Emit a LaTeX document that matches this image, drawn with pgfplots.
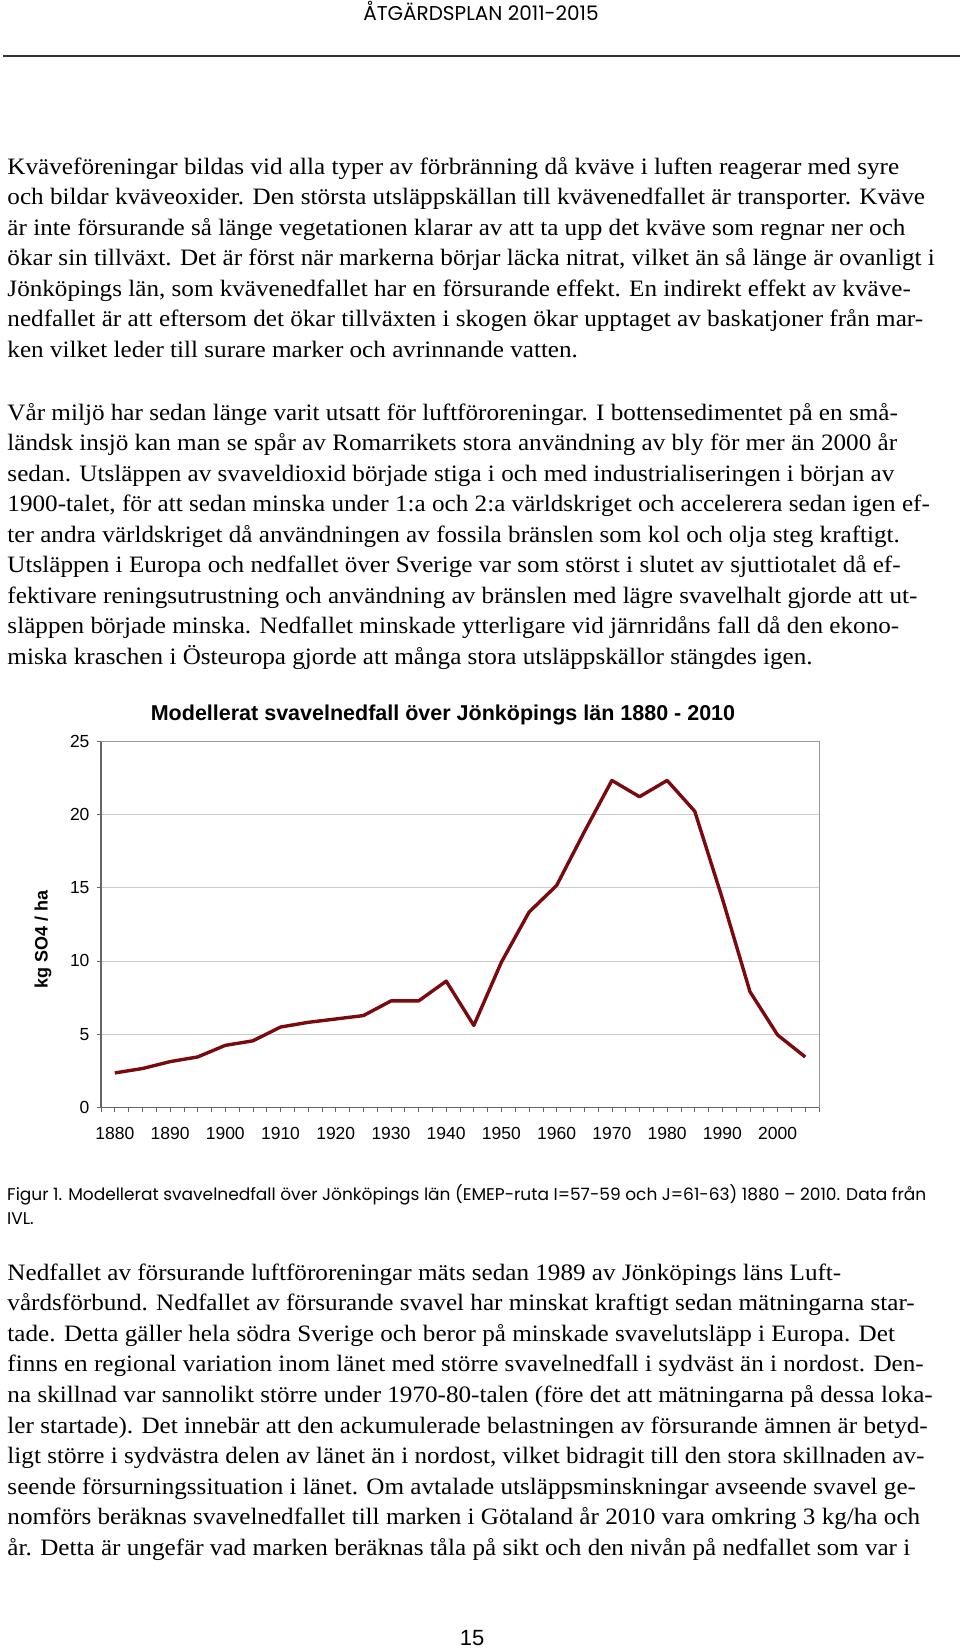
\documentclass[border=0pt]{standalone}
\usepackage{fontspec}
\usepackage{graphicx}
\setmainfont{Liberation Serif}
\newfontfamily\arial{Liberation Sans}
\newfontfamily\gothic{Poppins}
\usepackage{pgfplots}
\pgfplotsset{compat=1.18}
\definecolor{sline}{RGB}{122,10,14}
\newcommand{\bodyfont}{\fontsize{23.5bp}{27bp}\selectfont}
\newcommand{\tl}[2]{\node[anchor=base west,inner sep=0pt] at (7.3,-#1) {\scalebox{1.07}[1]{\bodyfont #2}};}
\begin{document}
\begin{tikzpicture}[x=1bp,y=1bp]
\useasboundingbox[fill=white] (0,0) rectangle (960,-1648);
\node[anchor=base,inner sep=0pt] at (481,-21) {\gothic\fontsize{20bp}{22bp}\selectfont ÅTGÄRDSPLAN 2011-2015};
\draw[line width=2bp, black!80] (3,-56) -- (960,-56);
% paragraph 1
\tl{174}{Kväveföreningar bildas vid alla typer av förbränning då kväve i luften reagerar med syre}
\tl{204.5}{och bildar kväveoxider. Den största utsläppskällan till kvävenedfallet är transporter. Kväve}
\tl{235}{är inte försurande så länge vegetationen klarar av att ta upp det kväve som regnar ner och}
\tl{265.5}{ökar sin tillväxt. Det är först när markerna börjar läcka nitrat, vilket än så länge är ovanligt i}
\tl{296}{Jönköpings län, som kvävenedfallet har en försurande effekt. En indirekt effekt av kväve-}
\tl{326.5}{nedfallet är att eftersom det ökar tillväxten i skogen ökar upptaget av baskatjoner från mar-}
\tl{357}{ken vilket leder till surare marker och avrinnande vatten.}
% paragraph 2
\tl{420}{Vår miljö har sedan länge varit utsatt för luftföroreningar. I bottensedimentet på en små-}
\tl{450.5}{ländsk insjö kan man se spår av Romarrikets stora användning av bly för mer än 2000 år}
\tl{481}{sedan. Utsläppen av svaveldioxid började stiga i och med industrialiseringen i början av}
\tl{511.5}{1900-talet, för att sedan minska under 1:a och 2:a världskriget och accelerera sedan igen ef-}
\tl{542}{ter andra världskriget då användningen av fossila bränslen som kol och olja steg kraftigt.}
\tl{572.5}{Utsläppen i Europa och nedfallet över Sverige var som störst i slutet av sjuttiotalet då ef-}
\tl{603}{fektivare reningsutrustning och användning av bränslen med lägre svavelhalt gjorde att ut-}
\tl{633.5}{släppen började minska. Nedfallet minskade ytterligare vid järnridåns fall då den ekono-}
\tl{664}{miska kraschen i Östeuropa gjorde att många stora utsläppskällor stängdes igen.}
% chart
\node[anchor=base,inner sep=0pt] at (443,-720) {\arial\bfseries\fontsize{21.5bp}{21.5bp}\selectfont Modellerat svavelnedfall över Jönköpings län 1880 - 2010};
\node[rotate=90,inner sep=0pt] at (43,-939) {\arial\bfseries\fontsize{18bp}{18bp}\selectfont kg SO4 / ha};
\begin{axis}[
  at={(101bp,-1107.5bp)}, anchor=south west, scale only axis,
  width=718bp, height=366.5bp,
  xmin=1877.5, xmax=2007.5, ymin=0, ymax=25,
  xtick={1880,1890,...,2000},
  minor xtick={1877.5,1880,...,2007.5},
  ytick={0,5,...,25},
  ymajorgrids, major grid style={black!20, line width=0.8bp},
  axis x line*=bottom, axis y line*=left,
  axis line style={black!60, line width=1.1bp, -},
  tick align=outside, major tick length=4bp, minor tick length=4bp,
  every tick/.style={black!60, line width=0.7bp},
  /pgf/number format/assume math mode=true,
  x tick label style={/pgf/number format/1000 sep={}, font=\arial\fontsize{17.5bp}{17.5bp}\selectfont, yshift=-12bp},
  y tick label style={font=\arial\fontsize{17.5bp}{17.5bp}\selectfont, xshift=-4bp},
  clip=false,
]
\addplot[sline, line width=3.4bp, line join=round] table {
x y
1880 2.36
1885 2.66
1890 3.13
1895 3.45
1900 4.24
1905 4.55
1910 5.49
1915 5.81
1920 6.04
1925 6.27
1930 7.27
1935 7.27
1940 8.62
1945 5.60
1950 9.92
1955 13.33
1960 15.15
1965 18.80
1970 22.31
1975 21.20
1980 22.31
1985 20.21
1990 14.25
1995 7.90
2000 4.95
2005 3.45
};
\draw[black!40, line width=1bp] (rel axis cs:0,1) -- (rel axis cs:1,1) -- (rel axis cs:1,0);
\end{axis}
% caption
\node[anchor=base west,inner sep=0pt] at (7,-1200) {\gothic\fontsize{17bp}{19bp}\selectfont Figur 1. Modellerat svavelnedfall över Jönköpings län (EMEP-ruta I=57-59 och J=61-63) 1880 – 2010. Data från};
\node[anchor=base west,inner sep=0pt] at (7,-1224) {\gothic\fontsize{17bp}{19bp}\selectfont IVL.};
% paragraph 3
\tl{1280}{Nedfallet av försurande luftföroreningar mäts sedan 1989 av Jönköpings läns Luft-}
\tl{1310.6}{vårdsförbund. Nedfallet av försurande svavel har minskat kraftigt sedan mätningarna star-}
\tl{1341.2}{tade. Detta gäller hela södra Sverige och beror på minskade svavelutsläpp i Europa. Det}
\tl{1371.8}{finns en regional variation inom länet med större svavelnedfall i sydväst än i nordost. Den-}
\tl{1402.4}{na skillnad var sannolikt större under 1970-80-talen (före det att mätningarna på dessa loka-}
\tl{1433}{ler startade). Det innebär att den ackumulerade belastningen av försurande ämnen är betyd-}
\tl{1463.6}{ligt större i sydvästra delen av länet än i nordost, vilket bidragit till den stora skillnaden av-}
\tl{1494.2}{seende försurningssituation i länet. Om avtalade utsläppsminskningar avseende svavel ge-}
\tl{1524.8}{nomförs beräknas svavelnedfallet till marken i Götaland år 2010 vara omkring 3 kg/ha och}
\tl{1555.4}{år. Detta är ungefär vad marken beräknas tåla på sikt och den nivån på nedfallet som var i}
\node[anchor=base,inner sep=0pt] at (472,-1645) {\arial\fontsize{22bp}{22bp}\selectfont 15};
\end{tikzpicture}
\end{document}
